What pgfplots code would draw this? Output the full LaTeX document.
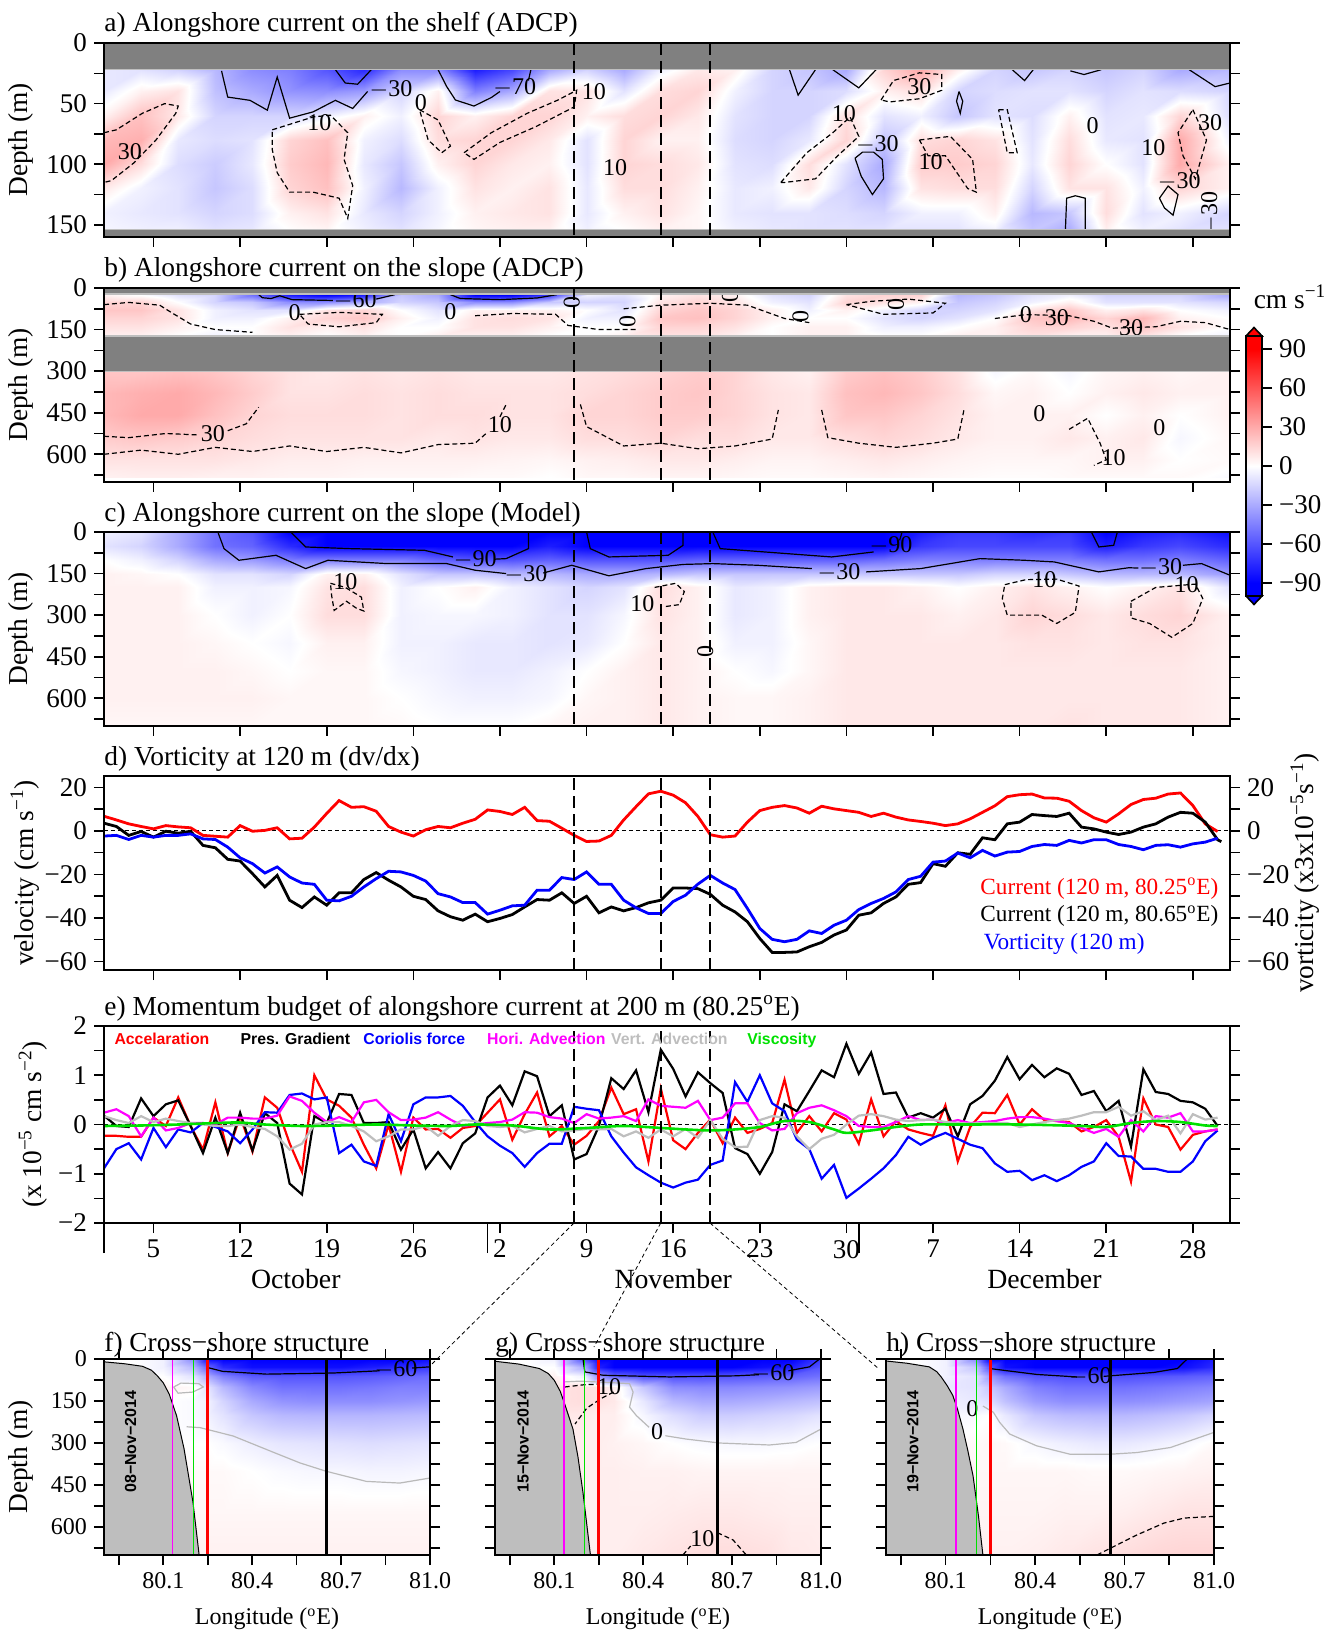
\documentclass[border=0pt]{standalone}
\usepackage{fontspec}
\setmainfont{Liberation Serif}
\newfontfamily\lsans{Liberation Sans}
\usepackage{pgfplots}
\pgfplotsset{compat=1.18}

\definecolor{ndgray}{RGB}{128,128,128}
\definecolor{topo}{RGB}{190,190,190}
\definecolor{vgray}{RGB}{190,190,190}
\definecolor{vgreen}{RGB}{0,225,0}
\definecolor{vmag}{RGB}{255,0,255}
\definecolor{zline}{RGB}{185,185,185}

\newcommand{\tlbl}{\fontsize{13.5}{15}\selectfont}
\newcommand{\ttlf}{\fontsize{13.7}{16}\selectfont}

\tikzset{clab/.style={font=\fontsize{12}{14}\selectfont, inner sep=0.5pt}}
\pgfplotsset{
  colormap={bwr}{rgb255=(0,0,255) rgb255=(255,255,255) rgb255=(255,0,0)},
  base/.style={scale only axis, anchor=north west, tick align=outside,
    major tick length=5pt, minor tick length=5pt,
    tick style={black, line width=0.8pt},
    axis line style={line width=1pt},
    tick label style={font=\tlbl},
    label style={font=\ttlf},
    /pgf/number format/assume math mode=true,
    colormap name=bwr, point meta min=-90, point meta max=90,
    axis on top},
  ttl/.style={title={#1}, title style={at={(0,1)}, anchor=base west, yshift=-0.5pt, inner sep=0pt, font=\ttlf}},
  ylab/.style 2 args={ylabel={#1}, ylabel style={at={(axis description cs:#2,0.5)}, anchor=center}},
  tser/.style={width=563pt, height=97pt, xmin=1, xmax=92, xtick={5,12,...,89}, xtick pos=left, ytick pos=both},
  fld/.style={tser, y dir=reverse, xticklabels={}},
  deep/.style={fld, ymin=0, ymax=700, ytick={0,150,...,600}, minor ytick={75,225,...,675}},
  sec/.style={width=163pt, height=98pt, xmin=79.9, xmax=81.0, ymin=0, ymax=700, y dir=reverse,
    xtick={79.95,80.1,80.25,80.4,80.55,80.7,80.85,81.0}, xticklabels={,80.1,,80.4,,80.7,,81.0},
    ytick={0,75,...,675}, xtick pos=both, ytick pos=both,
    tick label style={font=\fontsize{12}{14}\selectfont},
    xlabel={Longitude (\textsuperscript{o}E)}, xlabel style={font=\fontsize{12}{14}\selectfont, yshift=-3pt}},
  fsurf/.style={surf, shader=interp, point meta=explicit, mesh/cols=#1},
  vdash/.style={black, line width=1pt, dash pattern=on 6pt off 3pt},
  zdash/.style={black, line width=0.5pt, dash pattern=on 2pt off 1.5pt},
  cneg/.style={black, line width=0.6pt},
  czero/.style={zline, line width=0.6pt},
  cpos/.style={black, line width=0.6pt, dash pattern=on 2.5pt off 1.5pt},
}
\newcommand{\vlines}[2]{%
  \addplot[vdash] coordinates {(39,#1) (39,#2)};
  \addplot[vdash] coordinates {(46,#1) (46,#2)};
  \addplot[vdash] coordinates {(50,#1) (50,#2)};}

\begin{document}
\begin{tikzpicture}
\useasboundingbox (0,0) rectangle (665.5pt,-815.5pt);

% ---------------- a) shelf ADCP
\begin{axis}[base, fld, at={(52pt,-21.5pt)}, ymin=0, ymax=160, ytick={0,50,100,150}, minor ytick={25,75,125},
  ttl={a) Alongshore current on the shelf (ADCP)}, ylab={Depth (m)}{-0.0737}]
\addplot[fsurf=31] table[row sep=\\, meta=v] {x y v\\
1 22 -8\\ 4 22 -10\\ 7 22 -15\\ 10 22 -25\\ 13 22 -40\\ 16 22 -45\\ 19 22 -60\\ 22 22 -75\\ 25 22 -40\\ 28 22 -40\\ 31 22 -80\\ 34 22 -65\\ 37 22 -30\\ 40 22 -15\\ 43 22 -30\\ 46 22 -5\\ 49 22 8\\ 52 22 5\\ 55 22 -15\\ 58 22 -20\\ 61 22 -30\\ 64 22 15\\ 67 22 30\\ 70 22 5\\ 73 22 -15\\ 76 22 -20\\ 79 22 -15\\ 82 22 -20\\ 85 22 -15\\ 88 22 -30\\ 92 22 -25\\
1 40 -8\\ 4 40 5\\ 7 40 10\\ 10 40 -22\\ 13 40 -30\\ 16 40 -38\\ 19 40 -40\\ 22 40 -35\\ 25 40 -15\\ 28 40 5\\ 31 40 -45\\ 34 40 -30\\ 37 40 10\\ 40 40 10\\ 43 40 -10\\ 46 40 12\\ 49 40 15\\ 52 40 -5\\ 55 40 -15\\ 58 40 -15\\ 61 40 -12\\ 64 40 5\\ 67 40 12\\ 70 40 -15\\ 73 40 -12\\ 76 40 -10\\ 79 40 -10\\ 82 40 -15\\ 85 40 -10\\ 88 40 -12\\ 92 40 -15\\
1 60 5\\ 4 60 22\\ 7 60 8\\ 10 60 -15\\ 13 60 -15\\ 16 60 -15\\ 19 60 -5\\ 22 60 5\\ 25 60 -5\\ 28 60 15\\ 31 60 5\\ 34 60 15\\ 37 60 15\\ 40 60 5\\ 43 60 12\\ 46 60 15\\ 49 60 8\\ 52 60 -10\\ 55 60 -15\\ 58 60 -15\\ 61 60 12\\ 64 60 -10\\ 67 60 -5\\ 70 60 -20\\ 73 60 -10\\ 76 60 -12\\ 79 60 5\\ 82 60 -10\\ 85 60 -8\\ 88 60 15\\ 92 60 -12\\
1 80 25\\ 4 80 28\\ 7 80 -8\\ 10 80 -12\\ 13 80 -10\\ 16 80 15\\ 19 80 22\\ 22 80 -5\\ 25 80 -12\\ 28 80 12\\ 31 80 15\\ 34 80 15\\ 37 80 8\\ 40 80 -10\\ 43 80 15\\ 46 80 5\\ 49 80 5\\ 52 80 -12\\ 55 80 -15\\ 58 80 -8\\ 61 80 15\\ 64 80 -20\\ 67 80 12\\ 70 80 15\\ 73 80 10\\ 76 80 -10\\ 79 80 12\\ 82 80 -8\\ 85 80 -10\\ 88 80 30\\ 92 80 -5\\
1 100 30\\ 4 100 12\\ 7 100 -12\\ 10 100 -18\\ 13 100 -8\\ 16 100 18\\ 19 100 25\\ 22 100 -8\\ 25 100 -20\\ 28 100 5\\ 31 100 15\\ 34 100 8\\ 37 100 5\\ 40 100 -10\\ 43 100 15\\ 46 100 12\\ 49 100 8\\ 52 100 -10\\ 55 100 -12\\ 58 100 12\\ 61 100 -10\\ 64 100 -30\\ 67 100 18\\ 70 100 18\\ 73 100 15\\ 76 100 -8\\ 79 100 15\\ 82 100 0\\ 85 100 -10\\ 88 100 30\\ 92 100 5\\
1 120 8\\ 4 120 -5\\ 7 120 -10\\ 10 120 -20\\ 13 120 -12\\ 16 120 15\\ 19 120 22\\ 22 120 -5\\ 25 120 -25\\ 28 120 -5\\ 31 120 10\\ 34 120 5\\ 37 120 10\\ 40 120 -8\\ 43 120 12\\ 46 120 12\\ 49 120 5\\ 52 120 -8\\ 55 120 -5\\ 58 120 8\\ 61 120 -15\\ 64 120 -25\\ 67 120 10\\ 70 120 12\\ 73 120 12\\ 76 120 -15\\ 79 120 10\\ 82 120 10\\ 85 120 -5\\ 88 120 15\\ 92 120 5\\
1 140 -5\\ 4 140 -8\\ 7 140 -10\\ 10 140 -15\\ 13 140 -12\\ 16 140 5\\ 19 140 10\\ 22 140 -8\\ 25 140 -15\\ 28 140 -5\\ 31 140 5\\ 34 140 8\\ 37 140 10\\ 40 140 -8\\ 43 140 5\\ 46 140 10\\ 49 140 3\\ 52 140 -8\\ 55 140 -10\\ 58 140 -10\\ 61 140 -12\\ 64 140 -15\\ 67 140 -5\\ 70 140 -5\\ 73 140 5\\ 76 140 -25\\ 79 140 -20\\ 82 140 12\\ 85 140 -10\\ 88 140 -5\\ 92 140 -15\\
1 155 -3\\ 4 155 -5\\ 7 155 -5\\ 10 155 -10\\ 13 155 -8\\ 16 155 0\\ 19 155 3\\ 22 155 -5\\ 25 155 -10\\ 28 155 -3\\ 31 155 3\\ 34 155 5\\ 37 155 5\\ 40 155 -5\\ 43 155 0\\ 46 155 5\\ 49 155 3\\ 52 155 -5\\ 55 155 -8\\ 58 155 -10\\ 61 155 -10\\ 64 155 -10\\ 67 155 -10\\ 70 155 -10\\ 73 155 -5\\ 76 155 -20\\ 79 155 -30\\ 82 155 5\\ 85 155 -5\\ 88 155 -10\\ 92 155 -10\\
};
% negative isolines (-30, -70)
\addplot[cneg] coordinates {(10.5,23) (11,44.6) (12.8,47.3) (14.2,55.4) (15,28) (16,62) (17.9,56.8) (19.7,47.3) (21.1,54) (22.3,40)};
\node[clab] at (axis cs:24.2,38) {$-$30};
\addplot[cneg] coordinates {(19.7,22) (20.5,33) (21.5,34) (22.6,22)};
\addplot[cneg] coordinates {(28,22) (28.7,36) (29.4,47) (30.9,52) (32.3,45) (33,40)};
\node[clab] at (axis cs:34.2,37) {$-$70};
\addplot[cneg] coordinates {(35.3,31) (35.5,22)};
\addplot[cneg] coordinates {(56.4,22) (57.1,43) (58.5,22)};
\addplot[cneg] coordinates {(59.9,22) (62,37) (63.4,22)};
\addplot[cneg] coordinates {(61.7,95) (62.2,110) (63.1,125) (64,112) (63.9,96) (63.2,90) (62.3,90) (61.7,95)};
\node[clab] at (axis cs:63.5,84) {$-$30};
\addplot[cneg] coordinates {(70.1,40) (70.4,48) (70.2,58) (69.9,48) (70.1,40)};
\addplot[cneg] coordinates {(74.4,22) (75.4,31) (76.1,22)};
\addplot[cneg] coordinates {(79.1,23) (80.2,26) (81.6,22)};
\addplot[cneg] coordinates {(88.7,22) (90.8,36) (92,33)};
\addplot[cneg] coordinates {(78.7,154) (78.8,128) (79.5,126) (80.3,128) (80.3,154)};
\addplot[cneg] coordinates {(86.3,128) (87,118) (87.8,125) (87.4,142) (86.7,136) (86.3,128)};
\node[clab] at (axis cs:87.9,114) {$-$30};
\node[clab, rotate=90] at (axis cs:90.4,140) {$-$30};
% positive isolines (10, 30)
\addplot[cpos] coordinates {(1,74) (2,71.6) (4.1,58) (5.9,50) (7,52) (6.8,58) (5.2,80) (3.4,99) (1.6,113.5) (1,115)};
\node[clab] at (axis cs:3.1,90) {30};
\addplot[cpos] coordinates {(14.6,71.6) (17.9,61) (19.3,59.5) (20.7,74) (20.4,96) (21.1,117.6) (20.7,144.6) (20,128) (17.9,123) (16,123) (15,107) (14.6,88) (14.6,71.6)};
\node[clab] at (axis cs:18.4,66) {10};
\addplot[cpos] coordinates {(26.5,55) (28,63.5) (29,85) (28.3,90.5) (27.2,80) (26.5,55)};
\node[clab] at (axis cs:26.6,49) {0};
\addplot[cpos] coordinates {(30.1,90.5) (32.3,74) (35.2,58) (37.7,47) (39.2,39) (39,52.7) (35.9,69) (33,82) (30.9,96) (30.1,90.5)};
\node[clab] at (axis cs:40.6,40) {10};
\node[clab] at (axis cs:42.3,103) {10};
\addplot[cpos] coordinates {(55.7,115) (57.8,90.5) (59.9,74) (61.3,61) (62,77) (60.3,93) (58.5,112) (56,115) (55.7,115)};
\node[clab] at (axis cs:60.8,58) {10};
\addplot[cpos] coordinates {(63.8,47) (64.8,31) (66.9,24.6) (68.7,26) (68.7,39) (66.9,46) (64.5,48.6) (63.8,47)};
\node[clab] at (axis cs:66.9,36) {30};
\addplot[cpos] coordinates {(66.9,80) (69.4,77) (71.2,96) (71.5,123) (70.8,120) (69,93) (67.6,93) (66.9,80)};
\node[clab] at (axis cs:67.8,98) {10};
\addplot[cpos] coordinates {(73.3,55) (74,55) (74.8,90.5) (74,90.5) (73.3,55)};
\addplot[cpos] coordinates {(89,55) (90.1,80) (89.2,112) (88.2,93) (87.8,74) (89,55)};
\node[clab] at (axis cs:90.4,66) {30};
\node[clab] at (axis cs:85.8,86) {10};
\node[clab] at (axis cs:80.9,68) {0};
\addplot[fill=ndgray, draw=lightgray, line width=0.6pt] coordinates {(1,0) (92,0) (92,22) (1,22)};
\addplot[fill=ndgray, draw=lightgray, line width=0.6pt] coordinates {(1,154) (92,154) (92,160) (1,160)};
\vlines{0}{160}
\end{axis}

% ---------------- b) slope ADCP
\begin{axis}[base, deep, at={(52pt,-144pt)}, ttl={b) Alongshore current on the slope (ADCP)}, ylab={Depth (m)}{-0.0737}]
\addplot[fsurf=31] table[row sep=\\, meta=v] {x y v\\
1 24 5\\ 4 24 0\\ 7 24 -10\\ 10 24 -15\\ 13 24 -50\\ 16 24 -80\\ 19 24 -90\\ 22 24 -80\\ 25 24 -20\\ 28 24 -30\\ 31 24 -100\\ 34 24 -100\\ 37 24 -70\\ 40 24 -5\\ 43 24 -10\\ 46 24 5\\ 49 24 10\\ 52 24 5\\ 55 24 -10\\ 58 24 -15\\ 61 24 10\\ 64 24 15\\ 67 24 15\\ 70 24 -25\\ 73 24 -20\\ 76 24 -10\\ 79 24 -5\\ 82 24 -15\\ 85 24 -15\\ 88 24 -15\\ 92 24 -30\\
1 50 15\\ 4 50 15\\ 7 50 0\\ 10 50 -15\\ 13 50 -20\\ 16 50 -40\\ 19 50 -40\\ 22 50 -30\\ 25 50 -15\\ 28 50 -20\\ 31 50 -40\\ 34 50 -40\\ 37 50 -20\\ 40 50 -15\\ 43 50 -15\\ 46 50 10\\ 49 50 15\\ 52 50 10\\ 55 50 -5\\ 58 50 -10\\ 61 50 15\\ 64 50 10\\ 67 50 5\\ 70 50 -20\\ 73 50 -15\\ 76 50 -5\\ 79 50 5\\ 82 50 -10\\ 85 50 -10\\ 88 50 -10\\ 92 50 -15\\
1 80 20\\ 4 80 20\\ 7 80 10\\ 10 80 -5\\ 13 80 -10\\ 16 80 -10\\ 19 80 10\\ 22 80 15\\ 25 80 0\\ 28 80 -10\\ 31 80 5\\ 34 80 5\\ 37 80 5\\ 40 80 0\\ 43 80 -10\\ 46 80 15\\ 49 80 20\\ 52 80 15\\ 55 80 5\\ 58 80 -5\\ 61 80 5\\ 64 80 -5\\ 67 80 -15\\ 70 80 -15\\ 73 80 -10\\ 76 80 10\\ 79 80 20\\ 82 80 5\\ 85 80 10\\ 88 80 0\\ 92 80 -5\\
1 110 15\\ 4 110 15\\ 7 110 10\\ 10 110 -5\\ 13 110 -5\\ 16 110 5\\ 19 110 15\\ 22 110 20\\ 25 110 5\\ 28 110 -5\\ 31 110 10\\ 34 110 12\\ 37 110 10\\ 40 110 -5\\ 43 110 -5\\ 46 110 20\\ 49 110 22\\ 52 110 15\\ 55 110 5\\ 58 110 0\\ 61 110 0\\ 64 110 -10\\ 67 110 -15\\ 70 110 -10\\ 73 110 0\\ 76 110 20\\ 79 110 25\\ 82 110 15\\ 85 110 25\\ 88 110 5\\ 92 110 0\\
1 140 10\\ 4 140 10\\ 7 140 5\\ 10 140 0\\ 13 140 0\\ 16 140 10\\ 19 140 5\\ 22 140 10\\ 25 140 0\\ 28 140 0\\ 31 140 10\\ 34 140 10\\ 37 140 5\\ 40 140 0\\ 43 140 0\\ 46 140 15\\ 49 140 15\\ 52 140 10\\ 55 140 0\\ 58 140 5\\ 61 140 5\\ 64 140 -5\\ 67 140 -5\\ 70 140 0\\ 73 140 5\\ 76 140 15\\ 79 140 15\\ 82 140 10\\ 85 140 20\\ 88 140 10\\ 92 140 0\\
1 173 5\\ 4 173 5\\ 7 173 0\\ 10 173 -5\\ 13 173 0\\ 16 173 5\\ 19 173 0\\ 22 173 5\\ 25 173 0\\ 28 173 5\\ 31 173 5\\ 34 173 5\\ 37 173 0\\ 40 173 0\\ 43 173 5\\ 46 173 10\\ 49 173 10\\ 52 173 5\\ 55 173 0\\ 58 173 5\\ 61 173 5\\ 64 173 0\\ 67 173 0\\ 70 173 5\\ 73 173 5\\ 76 173 10\\ 79 173 5\\ 82 173 5\\ 85 173 10\\ 88 173 0\\ 92 173 -5\\
};
\addplot[fsurf=31] table[row sep=\\, meta=v] {x y v\\
1 301 20\\ 4 301 20\\ 7 301 22\\ 10 301 20\\ 13 301 15\\ 16 301 10\\ 19 301 8\\ 22 301 10\\ 25 301 8\\ 28 301 10\\ 31 301 8\\ 34 301 8\\ 37 301 8\\ 40 301 10\\ 43 301 12\\ 46 301 15\\ 49 301 18\\ 52 301 15\\ 55 301 8\\ 58 301 5\\ 61 301 18\\ 64 301 22\\ 67 301 18\\ 70 301 10\\ 73 301 -3\\ 76 301 2\\ 79 301 -3\\ 82 301 3\\ 85 301 5\\ 88 301 3\\ 92 301 5\\
1 380 25\\ 4 380 28\\ 7 380 30\\ 10 380 25\\ 13 380 18\\ 16 380 10\\ 19 380 10\\ 22 380 12\\ 25 380 10\\ 28 380 12\\ 31 380 10\\ 34 380 10\\ 37 380 10\\ 40 380 12\\ 43 380 15\\ 46 380 18\\ 49 380 20\\ 52 380 15\\ 55 380 10\\ 58 380 8\\ 61 380 22\\ 64 380 25\\ 67 380 20\\ 70 380 12\\ 73 380 3\\ 76 380 5\\ 79 380 0\\ 82 380 5\\ 85 380 8\\ 88 380 5\\ 92 380 5\\
1 460 25\\ 4 460 30\\ 7 460 30\\ 10 460 22\\ 13 460 15\\ 16 460 12\\ 19 460 12\\ 22 460 12\\ 25 460 10\\ 28 460 12\\ 31 460 12\\ 34 460 10\\ 37 460 10\\ 40 460 15\\ 43 460 15\\ 46 460 18\\ 49 460 18\\ 52 460 15\\ 55 460 10\\ 58 460 8\\ 61 460 20\\ 64 460 20\\ 67 460 15\\ 70 460 10\\ 73 460 5\\ 76 460 5\\ 79 460 5\\ 82 460 0\\ 85 460 5\\ 88 460 0\\ 92 460 5\\
1 540 18\\ 4 540 20\\ 7 540 18\\ 10 540 15\\ 13 540 12\\ 16 540 10\\ 19 540 10\\ 22 540 10\\ 25 540 10\\ 28 540 8\\ 31 540 10\\ 34 540 8\\ 37 540 8\\ 40 540 12\\ 43 540 12\\ 46 540 15\\ 49 540 12\\ 52 540 12\\ 55 540 8\\ 58 540 8\\ 61 540 12\\ 64 540 15\\ 67 540 12\\ 70 540 8\\ 73 540 5\\ 76 540 5\\ 79 540 8\\ 82 540 5\\ 85 540 8\\ 88 540 -3\\ 92 540 3\\
1 620 10\\ 4 620 10\\ 7 620 10\\ 10 620 10\\ 13 620 8\\ 16 620 6\\ 19 620 6\\ 22 620 5\\ 25 620 5\\ 28 620 5\\ 31 620 5\\ 34 620 4\\ 37 620 3\\ 40 620 5\\ 43 620 6\\ 46 620 8\\ 49 620 8\\ 52 620 6\\ 55 620 4\\ 58 620 4\\ 61 620 6\\ 64 620 8\\ 67 620 6\\ 70 620 4\\ 73 620 3\\ 76 620 3\\ 79 620 3\\ 82 620 5\\ 85 620 5\\ 88 620 0\\ 92 620 2\\
1 682 5\\ 4 682 6\\ 7 682 6\\ 10 682 5\\ 13 682 5\\ 16 682 4\\ 19 682 4\\ 22 682 3\\ 25 682 3\\ 28 682 3\\ 31 682 2\\ 34 682 2\\ 37 682 0\\ 40 682 3\\ 43 682 3\\ 46 682 4\\ 49 682 4\\ 52 682 3\\ 55 682 2\\ 58 682 2\\ 61 682 3\\ 64 682 4\\ 67 682 3\\ 70 682 2\\ 73 682 1\\ 76 682 1\\ 79 682 2\\ 82 682 2\\ 85 682 2\\ 88 682 2\\ 92 682 -2\\
};
% isolines of the upper record
\addplot[cneg] coordinates {(13.5,24) (13.8,35) (14.5,38) (15.2,28) (16.2,42) (19.5,45)};
\addplot[cneg] coordinates {(23,40) (24.5,24)};
\node[clab] at (axis cs:21.3,44) {$-$60};
\addplot[cneg] coordinates {(29,24) (29.8,38) (33,42) (36,36) (37.6,24)};
\addplot[cpos] coordinates {(1,60) (3,52) (5.5,62) (6.5,90) (8,130) (10,150) (13,160)};
\addplot[cpos] coordinates {(16.8,95) (20,88) (23.5,95) (23,125) (20,140) (17.5,130) (16.8,95)};
\addplot[cpos] coordinates {(31,100) (34,92) (37.5,95) (38.5,135) (41,150) (44,150)};
\addplot[cpos] coordinates {(43,75) (46,62) (50,55) (53,62) (56,110) (58,125)};
\addplot[cpos] coordinates {(61,60) (63,48) (66,40) (69,55) (68,90) (64,95) (61,60)};
\addplot[cpos] coordinates {(73,110) (75.5,96) (79,100) (81,120) (82.5,145) (86,140) (88,120) (90,125) (92,150)};
\node[clab] at (axis cs:16.4,90) {0};
\node[clab] at (axis cs:29,84) {0};
\node[clab, rotate=90] at (axis cs:38.8,54) {0};
\node[clab, rotate=90] at (axis cs:43.3,120) {0};
\node[clab, rotate=90] at (axis cs:51.6,30) {0};
\node[clab, rotate=90] at (axis cs:57.3,102) {0};
\node[clab, rotate=90] at (axis cs:65,60) {0};
\node[clab] at (axis cs:75.5,96) {0};
\node[clab] at (axis cs:78,108) {30};
\node[clab] at (axis cs:84,144) {30};
% isolines of the lower record
\addplot[cpos] coordinates {(1,535) (3,540) (6,525) (8.5,530)};
\addplot[cpos] coordinates {(11,515) (12.5,490) (13.5,430)};
\node[clab] at (axis cs:9.8,527) {30};
\addplot[cpos] coordinates {(1,600) (4,585) (7,600) (10,575) (13,590) (16,570) (19,590) (22,575) (25,595) (28,565) (31,560) (32,520)};
\addplot[cpos] coordinates {(33,465) (33.5,420)};
\node[clab] at (axis cs:33,492) {10};
\addplot[cpos] coordinates {(39.5,420) (40,500) (43,570) (46,560) (49,580) (52,570) (55,545) (55.5,440)};
\addplot[cpos] coordinates {(59,440) (59.5,540) (62,560) (65,575) (68,560) (70,545) (70.5,440)};
\addplot[cpos] coordinates {(79,510) (80.5,470) (81.5,560) (82,620) (81,640)};
\node[clab] at (axis cs:82.6,612) {10};
\node[clab] at (axis cs:76.6,455) {0};
\node[clab] at (axis cs:86.3,505) {0};
\addplot[fill=ndgray, draw=lightgray, line width=0.6pt] coordinates {(1,0) (92,0) (92,22) (1,22)};
\addplot[fill=ndgray, draw=lightgray, line width=0.6pt] coordinates {(1,173) (92,173) (92,301) (1,301)};
\vlines{0}{700}
\end{axis}

% ---------------- c) slope model
\begin{axis}[base, deep, at={(52pt,-266pt)}, ttl={c) Alongshore current on the slope (Model)}, ylab={Depth (m)}{-0.0737}]
\addplot[fsurf=31] table[row sep=\\, meta=v] {x y v\\
1 0 -5\\ 4 0 -10\\ 7 0 -30\\ 10 0 -50\\ 13 0 -60\\ 16 0 -90\\ 19 0 -100\\ 22 0 -100\\ 25 0 -100\\ 28 0 -100\\ 31 0 -110\\ 34 0 -110\\ 37 0 -90\\ 40 0 -110\\ 43 0 -110\\ 46 0 -110\\ 49 0 -100\\ 52 0 -100\\ 55 0 -110\\ 58 0 -110\\ 61 0 -110\\ 64 0 -100\\ 67 0 -80\\ 70 0 -70\\ 73 0 -70\\ 76 0 -75\\ 79 0 -70\\ 82 0 -90\\ 85 0 -80\\ 88 0 -75\\ 92 0 -85\\
1 50 -10\\ 4 50 -15\\ 7 50 -30\\ 10 50 -50\\ 13 50 -55\\ 16 50 -75\\ 19 50 -90\\ 22 50 -90\\ 25 50 -95\\ 28 50 -100\\ 31 50 -100\\ 34 50 -100\\ 37 50 -80\\ 40 50 -100\\ 43 50 -100\\ 46 50 -100\\ 49 50 -90\\ 52 50 -95\\ 55 50 -100\\ 58 50 -100\\ 61 50 -100\\ 64 50 -90\\ 67 50 -70\\ 70 50 -65\\ 73 50 -65\\ 76 50 -65\\ 79 50 -65\\ 82 50 -80\\ 85 50 -70\\ 88 50 -65\\ 92 50 -75\\
1 100 0\\ 4 100 -5\\ 7 100 -15\\ 10 100 -30\\ 13 100 -35\\ 16 100 -45\\ 19 100 -45\\ 22 100 -45\\ 25 100 -45\\ 28 100 -55\\ 31 100 -60\\ 34 100 -60\\ 37 100 -55\\ 40 100 -60\\ 43 100 -60\\ 46 100 -60\\ 49 100 -55\\ 52 100 -55\\ 55 100 -55\\ 58 100 -55\\ 61 100 -55\\ 64 100 -50\\ 67 100 -45\\ 70 100 -45\\ 73 100 -45\\ 76 100 -45\\ 79 100 -45\\ 82 100 -50\\ 85 100 -50\\ 88 100 -45\\ 92 100 -55\\
1 150 5\\ 4 150 3\\ 7 150 0\\ 10 150 -10\\ 13 150 -10\\ 16 150 -15\\ 19 150 5\\ 22 150 5\\ 25 150 -10\\ 28 150 -20\\ 31 150 -20\\ 34 150 -25\\ 37 150 -25\\ 40 150 -30\\ 43 150 -30\\ 46 150 -25\\ 49 150 -20\\ 52 150 -20\\ 55 150 -20\\ 58 150 -20\\ 61 150 -20\\ 64 150 -20\\ 67 150 -20\\ 70 150 -20\\ 73 150 -15\\ 76 150 -15\\ 79 150 -20\\ 82 150 -25\\ 85 150 -25\\ 88 150 -25\\ 92 150 -35\\
1 200 5\\ 4 200 5\\ 7 200 5\\ 10 200 -5\\ 13 200 -5\\ 16 200 -3\\ 19 200 10\\ 22 200 12\\ 25 200 -5\\ 28 200 0\\ 31 200 5\\ 34 200 -5\\ 37 200 -10\\ 40 200 -15\\ 43 200 -10\\ 46 200 12\\ 49 200 5\\ 52 200 -8\\ 55 200 -5\\ 58 200 5\\ 61 200 8\\ 64 200 8\\ 67 200 5\\ 70 200 0\\ 73 200 5\\ 76 200 10\\ 79 200 5\\ 82 200 0\\ 85 200 5\\ 88 200 10\\ 92 200 -10\\
1 300 5\\ 4 300 5\\ 7 300 5\\ 10 300 0\\ 13 300 -5\\ 16 300 0\\ 19 300 12\\ 22 300 12\\ 25 300 -5\\ 28 300 -3\\ 31 300 -3\\ 34 300 -5\\ 37 300 -10\\ 40 300 -10\\ 43 300 -3\\ 46 300 10\\ 49 300 5\\ 52 300 -8\\ 55 300 -5\\ 58 300 5\\ 61 300 8\\ 64 300 8\\ 67 300 8\\ 70 300 5\\ 73 300 8\\ 76 300 15\\ 79 300 12\\ 82 300 8\\ 85 300 12\\ 88 300 15\\ 92 300 5\\
1 400 5\\ 4 400 5\\ 7 400 5\\ 10 400 3\\ 13 400 0\\ 16 400 -3\\ 19 400 5\\ 22 400 5\\ 25 400 -5\\ 28 400 -5\\ 31 400 -8\\ 34 400 -8\\ 37 400 -10\\ 40 400 -8\\ 43 400 0\\ 46 400 8\\ 49 400 5\\ 52 400 -5\\ 55 400 -5\\ 58 400 3\\ 61 400 8\\ 64 400 8\\ 67 400 8\\ 70 400 8\\ 73 400 8\\ 76 400 10\\ 79 400 10\\ 82 400 8\\ 85 400 10\\ 88 400 10\\ 92 400 5\\
1 500 5\\ 4 500 5\\ 7 500 5\\ 10 500 5\\ 13 500 3\\ 16 500 0\\ 19 500 3\\ 22 500 3\\ 25 500 -3\\ 28 500 -5\\ 31 500 -8\\ 34 500 -8\\ 37 500 -5\\ 40 500 0\\ 43 500 5\\ 46 500 8\\ 49 500 5\\ 52 500 0\\ 55 500 -3\\ 58 500 3\\ 61 500 8\\ 64 500 8\\ 67 500 8\\ 70 500 8\\ 73 500 8\\ 76 500 8\\ 79 500 8\\ 82 500 8\\ 85 500 8\\ 88 500 8\\ 92 500 5\\
1 600 5\\ 4 600 5\\ 7 600 5\\ 10 600 5\\ 13 600 5\\ 16 600 3\\ 19 600 3\\ 22 600 3\\ 25 600 0\\ 28 600 -3\\ 31 600 -5\\ 34 600 -5\\ 37 600 -3\\ 40 600 3\\ 43 600 5\\ 46 600 8\\ 49 600 5\\ 52 600 3\\ 55 600 3\\ 58 600 5\\ 61 600 8\\ 64 600 8\\ 67 600 8\\ 70 600 8\\ 73 600 8\\ 76 600 8\\ 79 600 8\\ 82 600 8\\ 85 600 8\\ 88 600 8\\ 92 600 5\\
1 700 3\\ 4 700 3\\ 7 700 3\\ 10 700 3\\ 13 700 3\\ 16 700 3\\ 19 700 3\\ 22 700 3\\ 25 700 2\\ 28 700 0\\ 31 700 0\\ 34 700 0\\ 37 700 3\\ 40 700 5\\ 43 700 5\\ 46 700 8\\ 49 700 5\\ 52 700 3\\ 55 700 3\\ 58 700 5\\ 61 700 8\\ 64 700 8\\ 67 700 8\\ 70 700 8\\ 73 700 8\\ 76 700 8\\ 79 700 10\\ 82 700 8\\ 85 700 8\\ 88 700 8\\ 92 700 5\\
};
% -30 and -90 isolines
\addplot[cneg] coordinates {(10.2,0) (10.7,60) (11.9,102) (14.9,84) (17.3,132) (19.1,102) (23.9,114) (28.7,114) (31,138) (33.5,150)};
\addplot[cneg] coordinates {(36.5,148) (38.8,120) (41.8,158) (44.8,132) (47.8,117) (50.2,114) (53.8,120) (58.2,132)};
\addplot[cneg] coordinates {(62.6,144) (67,132) (71.8,96) (75.4,102) (77.8,108) (80.2,132) (81.4,144) (83.8,129) (84.6,130)};
\addplot[cneg] coordinates {(88.2,120) (89.7,114) (92,156)};
\addplot[cneg] coordinates {(16.1,0) (17.3,54) (20.9,60) (26.9,66) (29.2,90)};
\addplot[cneg] coordinates {(32.6,98) (33.5,96) (35.3,60) (35.3,0)};
\addplot[cneg] coordinates {(40,0) (40.3,60) (41.8,90) (46.6,84) (47.8,48) (47.8,0)};
\addplot[cneg] coordinates {(50.2,0) (50.8,60) (59.8,90) (63.2,72)};
\addplot[cneg] coordinates {(65.3,30) (65.5,0)};
\addplot[cneg] coordinates {(80.8,0) (81.4,54) (82.6,48) (82.9,0)};
\node[clab] at (axis cs:31,100) {$-$90};
\node[clab] at (axis cs:64.6,50) {$-$90};
\node[clab] at (axis cs:35.1,152) {$-$30};
\node[clab] at (axis cs:60.4,146) {$-$30};
\node[clab] at (axis cs:86.4,128) {$-$30};
\addplot[cpos] coordinates {(19.3,185) (20.5,200) (21.8,235) (22,285) (21.4,275) (20.6,250) (19.6,283) (19.4,230) (19.3,185)};
\addplot[cpos] coordinates {(45.5,200) (47.2,185) (47.9,215) (47.5,262) (46.2,270)};
\addplot[cpos] coordinates {(73.8,190) (75.5,172) (78,170) (79.8,195) (79.5,290) (78,330) (76.8,300) (74,300) (73.6,240) (73.8,190)};
\addplot[cpos] coordinates {(84,250) (86,200) (89.2,188) (89.8,240) (89,330) (87.3,380) (85.5,330) (84,310) (84,250)};
\node[clab] at (axis cs:20.5,178) {10};
\node[clab] at (axis cs:44.5,260) {10};
\node[clab] at (axis cs:77,172) {10};
\node[clab] at (axis cs:88.5,190) {10};
\node[clab, rotate=90] at (axis cs:49.6,431) {0};
\vlines{0}{700}
\end{axis}

% ---------------- d) vorticity
\begin{axis}[base, tser, at={(52pt,-388pt)}, ymin=-64, ymax=25.2, xticklabels={},
  ytick={-60,-40,-20,0,20}, yticklabels={−60,−40,−20,0,20}, minor ytick={-50,-30,-10,10},
  ttl={d) Vorticity at 120 m (dv/dx)}, ylab={velocity (cm s\textsuperscript{−1})}{-0.0702}]
\addplot[zdash] coordinates {(1,0) (92,0)};
\addplot[red, line width=1.4pt] coordinates {(1,6.7) (2,5) (3,3.2) (4,2) (5,0.9) (6,2.4) (7,1.8) (8,1.4) (9,-2.1) (10,-2.5) (11,-2.9) (12,2.4) (13,-0.2) (14,0.2) (15,1.4) (16,-3.7) (17,-3.4) (18,1.7) (19,8) (20,13.9) (21,10.8) (22,11.1) (23,9) (24,2) (25,-0.6) (26,-2.4) (27,0.5) (28,2) (29,1.4) (30,3.5) (31,5.3) (32,9.6) (33,8.9) (34,7.5) (35,10.8) (36,4.7) (37,4.4) (38,1.2) (39,-2.1) (40,-4.9) (41,-4.7) (42,-2.1) (43,5) (44,11.1) (45,17) (46,18.2) (47,16.4) (48,12.9) (49,6.6) (50,-1.8) (51,-2.9) (52,-2.4) (53,4) (54,9.3) (55,10.8) (56,11.6) (57,10.5) (58,8.1) (59,11.3) (60,10.1) (61,9.3) (62,8.5) (63,6.6) (64,8.1) (65,6.3) (66,5) (67,4.3) (68,3.5) (69,2.4) (70,3.2) (71,5.5) (72,8.5) (73,11.5) (74,15.7) (75,16.6) (76,16.9) (77,15.1) (78,15) (79,13.6) (80,9.3) (81,6) (82,4) (83,7.8) (84,12.1) (85,14.4) (86,15) (87,16.9) (88,17.4) (89,11.6) (90,3.2) (91,-0.3)};
\addplot[black, line width=1.4pt] coordinates {(1,3.5) (2,2) (3,-2.1) (4,-0.3) (5,-2.9) (6,-0.2) (7,-1.1) (8,-0.2) (9,-6.7) (10,-7.8) (11,-13.1) (12,-13.9) (13,-19.7) (14,-25.8) (15,-20.5) (16,-31.9) (17,-35.3) (18,-30.4) (19,-34.2) (20,-28.5) (21,-28.5) (22,-22.4) (23,-19.2) (24,-22.7) (25,-25.8) (26,-30.1) (27,-31.6) (28,-36.8) (29,-39.5) (30,-41.1) (31,-38.3) (32,-41.8) (33,-40.3) (34,-38.5) (35,-35) (36,-31.6) (37,-31.9) (38,-28.5) (39,-33.4) (40,-30.1) (41,-37.7) (42,-35) (43,-36.8) (44,-35.3) (45,-33.1) (46,-31.9) (47,-26.3) (48,-26.3) (49,-26.6) (50,-29.2) (51,-34.2) (52,-37.3) (53,-41.8) (54,-49.5) (55,-55.9) (56,-55.9) (57,-55.7) (58,-53.3) (59,-51.3) (60,-47.9) (61,-45.6) (62,-38.8) (63,-37.7) (64,-33.4) (65,-30.4) (66,-24.6) (67,-23.8) (68,-15.1) (69,-16.3) (70,-10.1) (71,-10.8) (72,-3.2) (73,-4.1) (74,3.2) (75,4) (76,7.5) (77,7) (78,6.6) (79,8.1) (80,1.7) (81,0.9) (82,-0.6) (83,-1.7) (84,-0.6) (85,1.7) (86,3.2) (87,6.3) (88,8.5) (89,8.1) (90,4) (91,-4.1) (91.3,-5)};
\addplot[blue, line width=1.4pt] coordinates {(1,-2.4) (2,-2.1) (3,-4) (4,-2.1) (5,-2.9) (6,-2.1) (7,-2.1) (8,-1.4) (9,-3.7) (10,-4) (11,-7.5) (12,-12.4) (13,-15.1) (14,-19.4) (15,-16.6) (16,-21.2) (17,-24) (18,-24.6) (19,-31.9) (20,-32.2) (21,-30.1) (22,-25.8) (23,-22) (24,-18.6) (25,-18.9) (26,-20.5) (27,-23.1) (28,-28.9) (29,-30.4) (30,-33) (31,-33) (32,-38.3) (33,-36.5) (34,-34.5) (35,-34.2) (36,-27.3) (37,-27.3) (38,-21.5) (39,-22.4) (40,-18.9) (41,-24.6) (42,-24.6) (43,-31.9) (44,-35.4) (45,-38) (46,-38) (47,-32.5) (48,-29.6) (49,-24.5) (50,-20.5) (51,-24) (52,-27) (53,-35.7) (54,-44.9) (55,-49.9) (56,-51) (57,-49.9) (58,-46) (59,-47.2) (60,-43.4) (61,-41.1) (62,-36.2) (63,-33.4) (64,-31.1) (65,-28.1) (66,-22.4) (67,-20.9) (68,-14.4) (69,-13.9) (70,-10.2) (71,-12.4) (72,-9) (73,-11.6) (74,-9.8) (75,-9.5) (76,-7.2) (77,-6.3) (78,-6.7) (79,-4.4) (80,-5.6) (81,-4.1) (82,-4.1) (83,-6.3) (84,-7.2) (85,-8.7) (86,-6.7) (87,-6.4) (88,-7.5) (89,-6) (90,-5.2) (91,-3.4)};
\vlines{-64}{25.2}
\node[anchor=east, text=red, font=\fontsize{11.6}{13}\selectfont, inner sep=0pt] at (rel axis cs:0.99,0.418) {Current (120 m, 80.25\textsuperscript{o}E)};
\node[anchor=east, text=black, font=\fontsize{11.6}{13}\selectfont, inner sep=0pt] at (rel axis cs:0.99,0.278) {Current (120 m, 80.65\textsuperscript{o}E)};
\node[anchor=west, text=blue, font=\fontsize{11.6}{13}\selectfont, inner sep=0pt] at (rel axis cs:0.781,0.134) {Vorticity (120 m)};
\end{axis}
\begin{axis}[base, width=563pt, height=97pt, at={(52pt,-388pt)}, xmin=1, xmax=92, ymin=-64, ymax=25.2,
  axis x line=none, axis y line*=right, ytick pos=right, yticklabel pos=right,
  ytick={-60,-40,-20,0,20}, yticklabels={−60,−40,−20,0,20}, minor ytick={-50,-30,-10,10},
  ylabel={vorticity (x3x10\textsuperscript{−5}s\textsuperscript{−1})}, ylabel style={at={(axis description cs:1.0666,0.5)}, anchor=center}]
\addplot[draw=none] coordinates {(1,0) (92,0)};
\end{axis}

% ---------------- e) momentum budget
\begin{axis}[base, tser, at={(52pt,-513pt)}, height=98.5pt, ymin=-2, ymax=2,
  ytick={-2,-1,0,1,2}, yticklabels={−2,−1,0,1,2}, minor ytick={-1.5,-0.5,0.5,1.5},
  xticklabels={5,12,19,26,2,9,16,23,30,7,14,21,28},
  extra x ticks={1,32,62}, extra x tick labels={}, extra x tick style={major tick length=15pt},
  ttl={e) Momentum budget of alongshore current at 200 m (80.25\textsuperscript{o}E)},
  ylab={(x 10\textsuperscript{−5} cm s\textsuperscript{−2})}{-0.0629}, clip=false]
\addplot[zdash] coordinates {(1,0) (92,0)};
\addplot[red, line width=1.1pt] coordinates {(1,-0.23) (2,-0.23) (3,-0.25) (4,-0.25) (5,0.14) (6,-0.03) (7,0.55) (8,-0.03) (9,-0.51) (10,0.45) (11,-0.58) (12,0.17) (13,-0.55) (14,0.55) (15,0.34) (16,-0.38) (17,-0.96) (18,1.0) (19,0.51) (20,0.38) (21,0.14) (22,-0.41) (23,-0.89) (24,0) (25,-0.96) (26,0.14) (27,-0.1) (28,-0.09) (29,-0.27) (30,-0.07) (31,-0.03) (32,0.24) (33,0.51) (34,-0.31) (35,0.21) (36,0.65) (37,-0.24) (38,-0.03) (39,-0.41) (40,-0.23) (41,0.07) (42,0.75) (43,0.21) (44,0.31) (45,-0.75) (46,0.73) (47,-0.32) (48,-0.5) (49,-0.17) (50,0.1) (51,-0.38) (52,0.14) (53,-0.17) (54,-0.09) (55,0.03) (56,0.91) (57,-0.17) (58,0.17) (59,-0.14) (60,0.23) (61,0.1) (62,-0.39) (63,0.51) (64,-0.24) (65,0.07) (66,-0.1) (67,-0.17) (68,-0.23) (69,0.39) (70,-0.75) (71,-0.05) (72,0.24) (73,0.23) (74,0.6) (75,0) (76,0.31) (77,0.09) (78,0.07) (79,0.05) (80,-0.14) (81,-0.05) (82,0.09) (83,-0.25) (84,-1.16) (85,0.53) (86,0) (87,-0.05) (88,-0.51) (89,-0.21) (90,-0.14) (91,-0.1)};
\addplot[black, line width=1.1pt] coordinates {(1,0.18) (2,-0.03) (3,-0.05) (4,0.53) (5,0.17) (6,0.41) (7,0.49) (8,-0.03) (9,-0.58) (10,0.14) (11,-0.58) (12,0.24) (13,-0.53) (14,0.23) (15,0.03) (16,-1.2) (17,-1.42) (18,0.17) (19,0.03) (20,0.62) (21,0.6) (22,0.03) (23,0.03) (24,0.05) (25,-0.51) (26,-0.1) (27,-0.89) (28,-0.56) (29,-0.89) (30,-0.38) (31,-0.18) (32,0.55) (33,0.79) (34,0.39) (35,1.08) (36,0.98) (37,0.17) (38,0.39) (39,-0.71) (40,-0.6) (41,-0.03) (42,0.94) (43,0.72) (44,1.1) (45,0.25) (46,1.52) (47,1.13) (48,0.57) (49,1.06) (50,0.84) (51,0.64) (52,-0.48) (53,-0.6) (54,-1.0) (55,-0.56) (56,0.41) (57,0.27) (58,0.68) (59,1.1) (60,0.96) (61,1.64) (62,1.03) (63,1.46) (64,0.62) (65,0.65) (66,0.14) (67,0.23) (68,0.14) (69,0.32) (70,-0.24) (71,0.41) (72,0.58) (73,0.89) (74,1.37) (75,0.92) (76,1.21) (77,0.96) (78,1.14) (79,1.03) (80,0.6) (81,0.68) (82,0.27) (83,0.48) (84,-0.45) (85,1.12) (86,0.66) (87,0.62) (88,0.48) (89,0.45) (90,0.32) (91,-0.03)};
\addplot[blue, line width=1.1pt] coordinates {(1,-0.89) (2,-0.5) (3,-0.38) (4,-0.71) (5,-0.07) (6,-0.46) (7,-0.1) (8,-0.16) (9,0.03) (10,-0.05) (11,-0.14) (12,-0.38) (13,-0.1) (14,0.25) (15,0.24) (16,0.6) (17,0.63) (18,0.51) (19,0.55) (20,-0.58) (21,-0.41) (22,-0.75) (23,-0.84) (24,0.21) (25,-0.34) (26,0.41) (27,0.55) (28,0.55) (29,0.58) (30,0.38) (31,0.05) (32,-0.24) (33,-0.43) (34,-0.58) (35,-0.86) (36,-0.58) (37,-0.39) (38,-0.39) (39,0.36) (40,0.32) (41,0.29) (42,-0.24) (43,-0.57) (44,-0.87) (45,-1.03) (46,-1.18) (47,-1.28) (48,-1.18) (49,-1.12) (50,-0.82) (51,-0.73) (52,0.86) (53,0.46) (54,1.0) (55,0.43) (56,0.27) (57,-0.31) (58,-0.5) (59,-1.1) (60,-0.82) (61,-1.49) (62,-1.3) (63,-1.1) (64,-0.89) (65,-0.62) (66,-0.25) (67,-0.41) (68,-0.27) (69,-0.17) (70,-0.29) (71,-0.41) (72,-0.48) (73,-0.79) (74,-0.96) (75,-0.94) (76,-1.13) (77,-1.03) (78,-1.15) (79,-1.03) (80,-0.86) (81,-0.75) (82,-0.38) (83,-0.64) (84,-0.65) (85,-0.9) (86,-0.9) (87,-0.96) (88,-0.96) (89,-0.75) (90,-0.34) (91,-0.12)};
\addplot[vmag, line width=1.1pt] coordinates {(1,0.24) (2,0.31) (3,0.17) (4,-0.24) (5,0.14) (6,-0.12) (7,-0.07) (8,0.03) (9,0.03) (10,0) (11,0.14) (12,0.14) (13,0.12) (14,0.12) (15,0.18) (16,0.57) (17,0.48) (18,0.24) (19,0.05) (20,0.15) (21,0.05) (22,0.45) (23,0.5) (24,0.25) (25,0.09) (26,0.1) (27,0.14) (28,0.25) (29,0.1) (30,-0.03) (31,0) (32,0.03) (33,0.05) (34,0.1) (35,0.25) (36,0.24) (37,0.15) (38,0.12) (39,0.03) (40,0.21) (41,0.12) (42,0.14) (43,0.17) (44,0.07) (45,0.51) (46,0.38) (47,0.36) (48,0.34) (49,0.48) (50,0.09) (51,0.14) (52,0.43) (53,0.43) (54,0.03) (55,-0.12) (56,-0.09) (57,0.23) (58,0.34) (59,0.39) (60,0.29) (61,0.17) (62,-0.03) (63,-0.05) (64,-0.05) (65,0.05) (66,0.17) (67,0.09) (68,0.1) (69,0.03) (70,0.09) (71,0.03) (72,0.05) (73,0.07) (74,0.12) (75,0.15) (76,0.15) (77,0.12) (78,0.07) (79,0.03) (80,-0.07) (81,-0.17) (82,-0.09) (83,-0.25) (84,0.09) (85,-0.14) (86,0.17) (87,0.14) (88,0.23) (89,-0.14) (90,-0.14) (91,-0.1)};
\addplot[vgray, line width=1.1pt] coordinates {(1,0.17) (2,0.09) (3,0.03) (4,0.17) (5,0.05) (6,0.12) (7,0.07) (8,0.03) (9,0) (10,-0.03) (11,-0.03) (12,0) (13,-0.05) (14,-0.09) (15,-0.24) (16,-0.51) (17,-0.39) (18,0) (19,0.05) (20,0.05) (21,-0.03) (22,-0.14) (23,-0.34) (24,-0.24) (25,-0.1) (26,-0.1) (27,-0.03) (28,-0.23) (29,-0.03) (30,0.09) (31,0.07) (32,-0.03) (33,-0.05) (34,-0.03) (35,-0.16) (36,-0.09) (37,-0.03) (38,-0.14) (39,-0.12) (40,-0.09) (41,-0.1) (42,-0.09) (43,-0.24) (44,-0.14) (45,-0.27) (46,-0.1) (47,-0.24) (48,-0.09) (49,-0.27) (50,0.09) (51,-0.29) (52,-0.46) (53,-0.45) (54,0.09) (55,0.17) (56,0.14) (57,-0.24) (58,-0.5) (59,-0.29) (60,-0.21) (61,0) (62,0.18) (63,0.21) (64,0.17) (65,0.1) (66,0.07) (67,0.09) (68,0.1) (69,0.05) (70,0.03) (71,0.02) (72,0.03) (73,0.03) (74,0.03) (75,-0.05) (76,0) (77,0.05) (78,0.09) (79,0.12) (80,0.18) (81,0.25) (82,0.25) (83,0.36) (84,0.18) (85,0.27) (86,0.09) (87,0.18) (88,-0.18) (89,0.21) (90,0.1) (91,0.14)};
\addplot[vgreen, line width=1.3pt, smooth] coordinates {(1,-0.03) (4,-0.02) (7,0) (10,0.03) (12,0.04) (14,0) (17,-0.03) (20,-0.02) (23,0) (26,-0.02) (29,-0.03) (31,0) (34,-0.02) (37,-0.1) (40,-0.07) (43,-0.03) (46,-0.07) (48,-0.1) (50,-0.12) (52,-0.1) (54,-0.05) (56,0.07) (58,0.05) (60,-0.1) (61,-0.17) (63,-0.12) (65,-0.05) (67,0) (70,0) (75,0) (80,-0.03) (82,-0.05) (84,0.03) (86,0.07) (88,0.05) (90,-0.02) (91,-0.03)};
\vlines{-2}{2}
\begin{scope}[every node/.style={anchor=base west, inner sep=0pt, font=\lsans\bfseries\fontsize{7.9}{9}\selectfont}]
\node[text=red] at (rel axis cs:0.009,0.905) {Accelaration};
\node[text=black] at (rel axis cs:0.121,0.905) {Pres. Gradient};
\node[text=blue] at (rel axis cs:0.230,0.905) {Coriolis force};
\node[text=vmag] at (rel axis cs:0.340,0.905) {Hori. Advection};
\node[text=vgray] at (rel axis cs:0.450,0.905) {Vert. Advection};
\node[text=vgreen] at (rel axis cs:0.571,0.905) {Viscosity};
\end{scope}
\node[font=\fontsize{13.9}{16}\selectfont] at (axis cs:16.5,-2) [yshift=-28pt] {October};
\node[font=\fontsize{13.9}{16}\selectfont] at (axis cs:47,-2) [yshift=-28pt] {November};
\node[font=\fontsize{13.9}{16}\selectfont] at (axis cs:77,-2) [yshift=-28pt] {December};
\end{axis}

% ---------------- colour bar
\begin{axis}[base, at={(623pt,-168pt)}, width=8pt, height=130pt, xmin=0, xmax=1, ymin=-100, ymax=100,
  xtick=\empty, ytick={-90,-60,...,90}, yticklabels={−90,−60,−30,0,30,60,90},
  ytick pos=right, yticklabel pos=right, clip=false, axis on top]
\addplot[fsurf=2] table[row sep=\\, meta=v] {x y v\\ 0 -100 -90\\ 1 -100 -90\\ 0 -90 -90\\ 1 -90 -90\\ 0 0 0\\ 1 0 0\\ 0 90 90\\ 1 90 90\\ 0 100 90\\ 1 100 90\\};
\addplot[fill=red, draw=black, line width=0.8pt] coordinates {(0,100) (1,100) (0.5,106.5) (0,100)};
\addplot[fill=blue, draw=black, line width=0.8pt] coordinates {(0,-100) (1,-100) (0.5,-106.5) (0,-100)};
\end{axis}
\node[font=\ttlf] at (645pt,-148.5pt) {cm s\textsuperscript{−1}};

% ---------------- f), g), h) cross-shore sections
\begin{axis}[base, sec, at={(52pt,-679.5pt)}, yticklabels={0,,150,,300,,450,,600,},
  ttl={f) Cross−shore structure}, title style={yshift=-1.5pt}, ylab={Depth (m)}{-0.255}]
\addplot[fsurf=13] table[row sep=\\, meta=v] {x y v\\
79.9 0 0\\ 80.0 0 0\\ 80.1 0 -5\\ 80.2 0 -40\\ 80.25 0 -85\\ 80.3 0 -100\\ 80.4 0 -100\\ 80.5 0 -100\\ 80.6 0 -100\\ 80.7 0 -100\\ 80.8 0 -95\\ 80.9 0 -90\\ 81.0 0 -85\\
79.9 30 0\\ 80.0 30 0\\ 80.1 30 -5\\ 80.2 30 -25\\ 80.25 30 -55\\ 80.3 30 -75\\ 80.4 30 -85\\ 80.5 30 -85\\ 80.6 30 -85\\ 80.7 30 -85\\ 80.8 30 -80\\ 80.9 30 -75\\ 81.0 30 -70\\
79.9 60 0\\ 80.0 60 0\\ 80.1 60 0\\ 80.2 60 -10\\ 80.25 60 -30\\ 80.3 60 -45\\ 80.4 60 -58\\ 80.5 60 -60\\ 80.6 60 -60\\ 80.7 60 -60\\ 80.8 60 -58\\ 80.9 60 -55\\ 81.0 60 -52\\
79.9 100 0\\ 80.0 100 3\\ 80.1 100 5\\ 80.2 100 2\\ 80.25 100 -10\\ 80.3 100 -25\\ 80.4 100 -42\\ 80.5 100 -50\\ 80.6 100 -50\\ 80.7 100 -50\\ 80.8 100 -48\\ 80.9 100 -45\\ 81.0 100 -45\\
79.9 150 0\\ 80.0 150 0\\ 80.1 150 0\\ 80.2 150 -2\\ 80.25 150 -5\\ 80.3 150 -15\\ 80.4 150 -30\\ 80.5 150 -38\\ 80.6 150 -40\\ 80.7 150 -40\\ 80.8 150 -40\\ 80.9 150 -38\\ 81.0 150 -36\\
79.9 200 0\\ 80.0 200 0\\ 80.1 200 0\\ 80.2 200 -2\\ 80.25 200 -5\\ 80.3 200 -10\\ 80.4 200 -20\\ 80.5 200 -25\\ 80.6 200 -26\\ 80.7 200 -26\\ 80.8 200 -26\\ 80.9 200 -25\\ 81.0 200 -24\\
79.9 300 0\\ 80.0 300 0\\ 80.1 300 0\\ 80.2 300 0\\ 80.25 300 0\\ 80.3 300 -2\\ 80.4 300 -6\\ 80.5 300 -9\\ 80.6 300 -10\\ 80.7 300 -11\\ 80.8 300 -12\\ 80.9 300 -11\\ 81.0 300 -10\\
79.9 400 2\\ 80.0 400 2\\ 80.1 400 2\\ 80.2 400 2\\ 80.25 400 2\\ 80.3 400 2\\ 80.4 400 0\\ 80.5 400 -2\\ 80.6 400 -3\\ 80.7 400 -3\\ 80.8 400 -4\\ 80.9 400 -4\\ 81.0 400 -3\\
79.9 550 3\\ 80.0 550 3\\ 80.1 550 3\\ 80.2 550 3\\ 80.25 550 3\\ 80.3 550 3\\ 80.4 550 3\\ 80.5 550 3\\ 80.6 550 3\\ 80.7 550 3\\ 80.8 550 3\\ 80.9 550 3\\ 81.0 550 3\\
79.9 700 5\\ 80.0 700 5\\ 80.1 700 5\\ 80.2 700 5\\ 80.25 700 5\\ 80.3 700 5\\ 80.4 700 5\\ 80.5 700 5\\ 80.6 700 5\\ 80.7 700 5\\ 80.8 700 5\\ 80.9 700 5\\ 81.0 700 5\\
};
\addplot[cneg] coordinates {(80.248,30) (80.3,44) (80.448,54) (80.673,50) (80.83,42)};
\addplot[cneg] coordinates {(80.94,32) (81.0,28)};
\node[clab] at (axis cs:80.885,36) {$-$60};
\addplot[czero] coordinates {(80.179,242) (80.224,245) (80.336,275) (80.448,323) (80.561,371) (80.65,401) (80.785,437) (80.898,443) (81.0,425)};
\addplot[czero] coordinates {(80.135,100) (80.16,86) (80.22,88) (80.235,100) (80.2,118) (80.15,122) (80.135,100)};
\addplot[fill=topo, draw=black, line width=0.5pt] coordinates {(79.9,10) (79.97,17) (80.03,26) (80.06,40) (80.08,60) (80.1,85) (80.12,125) (80.145,203) (80.17,320) (80.2,510) (80.221,700) (79.9,700)};
\addplot[vmag, line width=0.6pt] coordinates {(80.131,0) (80.131,700)};
\addplot[vgreen, line width=0.6pt] coordinates {(80.201,0) (80.201,700)};
\addplot[red, line width=1.4pt] coordinates {(80.25,0) (80.25,700)};
\addplot[black, line width=1.4pt] coordinates {(80.65,0) (80.65,700)};
\node[rotate=90, font=\lsans\bfseries\fontsize{8}{9}\selectfont] at (axis cs:79.99,295) {08−Nov−2014};
\end{axis}

\begin{axis}[base, sec, at={(247.5pt,-679.5pt)}, yticklabels={}, ttl={g) Cross−shore structure}, title style={yshift=-1.5pt}]
\addplot[fsurf=13] table[row sep=\\, meta=v] {x y v\\
79.9 0 0\\ 80.0 0 0\\ 80.1 0 -5\\ 80.2 0 -60\\ 80.25 0 -95\\ 80.3 0 -100\\ 80.4 0 -100\\ 80.5 0 -100\\ 80.6 0 -100\\ 80.7 0 -100\\ 80.8 0 -95\\ 80.9 0 -90\\ 81.0 0 -70\\
79.9 30 0\\ 80.0 30 0\\ 80.1 30 0\\ 80.2 30 -30\\ 80.25 30 -80\\ 80.3 30 -90\\ 80.4 30 -95\\ 80.5 30 -95\\ 80.6 30 -95\\ 80.7 30 -90\\ 80.8 30 -85\\ 80.9 30 -80\\ 81.0 30 -60\\
79.9 60 0\\ 80.0 60 0\\ 80.1 60 5\\ 80.2 60 -5\\ 80.25 60 -40\\ 80.3 60 -55\\ 80.4 60 -62\\ 80.5 60 -62\\ 80.6 60 -62\\ 80.7 60 -60\\ 80.8 60 -58\\ 80.9 60 -55\\ 81.0 60 -50\\
79.9 100 0\\ 80.0 100 5\\ 80.1 100 10\\ 80.2 100 12\\ 80.25 100 10\\ 80.3 100 6\\ 80.4 100 -20\\ 80.5 100 -40\\ 80.6 100 -42\\ 80.7 100 -42\\ 80.8 100 -40\\ 80.9 100 -38\\ 81.0 100 -35\\
79.9 150 0\\ 80.0 150 5\\ 80.1 150 10\\ 80.2 150 12\\ 80.25 150 10\\ 80.3 150 8\\ 80.4 150 -8\\ 80.5 150 -25\\ 80.6 150 -30\\ 80.7 150 -30\\ 80.8 150 -28\\ 80.9 150 -25\\ 81.0 150 -22\\
79.9 200 0\\ 80.0 200 3\\ 80.1 200 8\\ 80.2 200 8\\ 80.25 200 6\\ 80.3 200 6\\ 80.4 200 -3\\ 80.5 200 -12\\ 80.6 200 -18\\ 80.7 200 -18\\ 80.8 200 -16\\ 80.9 200 -14\\ 81.0 200 -10\\
79.9 300 3\\ 80.0 300 3\\ 80.1 300 5\\ 80.2 300 6\\ 80.25 300 6\\ 80.3 300 5\\ 80.4 300 3\\ 80.5 300 0\\ 80.6 300 -2\\ 80.7 300 -3\\ 80.8 300 -3\\ 80.9 300 -2\\ 81.0 300 0\\
79.9 400 4\\ 80.0 400 4\\ 80.1 400 5\\ 80.2 400 6\\ 80.25 400 6\\ 80.3 400 6\\ 80.4 400 5\\ 80.5 400 5\\ 80.6 400 4\\ 80.7 400 4\\ 80.8 400 4\\ 80.9 400 4\\ 81.0 400 4\\
79.9 550 5\\ 80.0 550 5\\ 80.1 550 5\\ 80.2 550 6\\ 80.25 550 6\\ 80.3 550 6\\ 80.4 550 6\\ 80.5 550 7\\ 80.6 550 8\\ 80.7 550 8\\ 80.8 550 7\\ 80.9 550 6\\ 81.0 550 6\\
79.9 700 6\\ 80.0 700 6\\ 80.1 700 6\\ 80.2 700 6\\ 80.25 700 6\\ 80.3 700 6\\ 80.4 700 8\\ 80.5 700 10\\ 80.6 700 12\\ 80.7 700 12\\ 80.8 700 11\\ 80.9 700 8\\ 81.0 700 7\\
};
\addplot[cneg] coordinates {(80.197,0) (80.203,46) (80.265,58) (80.489,64) (80.714,60) (80.79,56)};
\addplot[cneg] coordinates {(80.89,42) (80.961,28) (80.995,0)};
\node[clab] at (axis cs:80.838,50) {$-$60};
\addplot[czero] coordinates {(80.13,82) (80.186,79) (80.287,84) (80.354,88) (80.366,118) (80.354,172) (80.377,202) (80.42,244)};
\addplot[czero] coordinates {(80.475,274) (80.546,286) (80.658,300) (80.826,307) (80.916,298) (81.0,250)};
\node[clab] at (axis cs:80.447,258) {0};
\addplot[cpos] coordinates {(80.135,100) (80.2,92) (80.25,90)};
\addplot[cpos] coordinates {(80.3,118) (80.26,140) (80.21,175) (80.17,232)};
\node[clab] at (axis cs:80.285,100) {10};
\addplot[cpos] coordinates {(80.534,700) (80.56,668)};
\addplot[cpos] coordinates {(80.65,620) (80.703,646) (80.748,700)};
\node[clab] at (axis cs:80.6,642) {10};
\addplot[fill=topo, draw=black, line width=0.5pt] coordinates {(79.9,8) (79.98,18) (80.05,34) (80.08,52) (80.1,76) (80.12,115) (80.135,160) (80.163,250) (80.18,350) (80.197,478) (80.222,700) (79.9,700)};
\addplot[vmag, line width=0.6pt] coordinates {(80.133,0) (80.133,700)};
\addplot[vgreen, line width=0.6pt] coordinates {(80.203,0) (80.203,700)};
\addplot[red, line width=1.4pt] coordinates {(80.25,0) (80.25,700)};
\addplot[black, line width=1.4pt] coordinates {(80.651,0) (80.651,700)};
\node[rotate=90, font=\lsans\bfseries\fontsize{8}{9}\selectfont] at (axis cs:79.995,295) {15−Nov−2014};
\end{axis}

\begin{axis}[base, sec, at={(443pt,-679.5pt)}, width=164pt, yticklabels={}, ttl={h) Cross−shore structure}, title style={yshift=-1.5pt}]
\addplot[fsurf=13] table[row sep=\\, meta=v] {x y v\\
79.9 0 0\\ 80.0 0 0\\ 80.1 0 -5\\ 80.2 0 -40\\ 80.25 0 -90\\ 80.3 0 -100\\ 80.4 0 -100\\ 80.5 0 -100\\ 80.6 0 -100\\ 80.7 0 -100\\ 80.8 0 -100\\ 80.9 0 -95\\ 81.0 0 -80\\
79.9 30 0\\ 80.0 30 0\\ 80.1 30 -5\\ 80.2 30 -20\\ 80.25 30 -60\\ 80.3 30 -85\\ 80.4 30 -95\\ 80.5 30 -95\\ 80.6 30 -95\\ 80.7 30 -95\\ 80.8 30 -90\\ 80.9 30 -85\\ 81.0 30 -75\\
79.9 60 0\\ 80.0 60 0\\ 80.1 60 -5\\ 80.2 60 -10\\ 80.25 60 -35\\ 80.3 60 -50\\ 80.4 60 -60\\ 80.5 60 -62\\ 80.6 60 -62\\ 80.7 60 -62\\ 80.8 60 -60\\ 80.9 60 -58\\ 81.0 60 -55\\
79.9 100 0\\ 80.0 100 -3\\ 80.1 100 -8\\ 80.2 100 -10\\ 80.25 100 -20\\ 80.3 100 -30\\ 80.4 100 -45\\ 80.5 100 -50\\ 80.6 100 -50\\ 80.7 100 -50\\ 80.8 100 -48\\ 80.9 100 -45\\ 81.0 100 -42\\
79.9 150 0\\ 80.0 150 -2\\ 80.1 150 -5\\ 80.2 150 -8\\ 80.25 150 -12\\ 80.3 150 -22\\ 80.4 150 -35\\ 80.5 150 -40\\ 80.6 150 -40\\ 80.7 150 -40\\ 80.8 150 -38\\ 80.9 150 -35\\ 81.0 150 -32\\
79.9 200 0\\ 80.0 200 0\\ 80.1 200 -3\\ 80.2 200 -2\\ 80.25 200 0\\ 80.3 200 -8\\ 80.4 200 -20\\ 80.5 200 -24\\ 80.6 200 -25\\ 80.7 200 -25\\ 80.8 200 -23\\ 80.9 200 -20\\ 81.0 200 -15\\
79.9 300 0\\ 80.0 300 0\\ 80.1 300 0\\ 80.2 300 2\\ 80.25 300 3\\ 80.3 300 2\\ 80.4 300 -3\\ 80.5 300 -6\\ 80.6 300 -8\\ 80.7 300 -8\\ 80.8 300 -6\\ 80.9 300 -3\\ 81.0 300 2\\
79.9 400 3\\ 80.0 400 3\\ 80.1 400 3\\ 80.2 400 3\\ 80.25 400 3\\ 80.3 400 3\\ 80.4 400 3\\ 80.5 400 3\\ 80.6 400 2\\ 80.7 400 2\\ 80.8 400 3\\ 80.9 400 4\\ 81.0 400 5\\
79.9 550 4\\ 80.0 550 4\\ 80.1 550 4\\ 80.2 550 4\\ 80.25 550 4\\ 80.3 550 4\\ 80.4 550 4\\ 80.5 550 5\\ 80.6 550 5\\ 80.7 550 6\\ 80.8 550 8\\ 80.9 550 10\\ 81.0 550 10\\
79.9 700 5\\ 80.0 700 5\\ 80.1 700 5\\ 80.2 700 5\\ 80.25 700 5\\ 80.3 700 5\\ 80.4 700 6\\ 80.5 700 8\\ 80.6 700 10\\ 80.7 700 12\\ 80.8 700 14\\ 80.9 700 15\\ 81.0 700 15\\
};
\addplot[cneg] coordinates {(80.248,34) (80.315,43) (80.405,55) (80.54,64)};
\addplot[cneg] coordinates {(80.63,62) (80.652,60) (80.798,48) (80.877,34) (80.91,0)};
\node[clab] at (axis cs:80.585,64) {$-$60};
\addplot[czero] coordinates {(80.225,168) (80.26,190) (80.281,226) (80.315,268) (80.405,310) (80.517,340) (80.652,340) (80.742,334) (80.854,316) (81.0,262)};
\node[clab] at (axis cs:80.19,178) {0};
\addplot[cpos] coordinates {(80.607,700) (80.652,676) (80.742,628) (80.832,586) (80.9,568) (81.0,562)};
\addplot[fill=topo, draw=black, line width=0.5pt] coordinates {(79.9,7) (79.97,15) (80.045,28) (80.07,45) (80.085,64) (80.105,95) (80.124,130) (80.14,180) (80.158,250) (80.175,330) (80.192,418) (80.21,560) (80.225,700) (79.9,700)};
\addplot[vmag, line width=0.6pt] coordinates {(80.135,0) (80.135,700)};
\addplot[vgreen, line width=0.6pt] coordinates {(80.203,0) (80.203,700)};
\addplot[red, line width=1.4pt] coordinates {(80.25,0) (80.25,700)};
\addplot[black, line width=1.4pt] coordinates {(80.652,0) (80.652,700)};
\node[rotate=90, font=\lsans\bfseries\fontsize{8}{9}\selectfont] at (axis cs:79.99,295) {19−Nov−2014};
\end{axis}

% links from the budget panel to the three sections
\draw[black, line width=0.4pt, dash pattern=on 2pt off 1.5pt] (287pt,-611.5pt) -- (216pt,-682pt);
\draw[black, line width=0.4pt, dash pattern=on 2pt off 1.5pt] (330.35pt,-611.5pt) -- (297pt,-673.5pt);
\draw[black, line width=0.4pt, dash pattern=on 2pt off 1.5pt] (355pt,-611.5pt) -- (439.5pt,-684.5pt);
\end{tikzpicture}
\end{document}
